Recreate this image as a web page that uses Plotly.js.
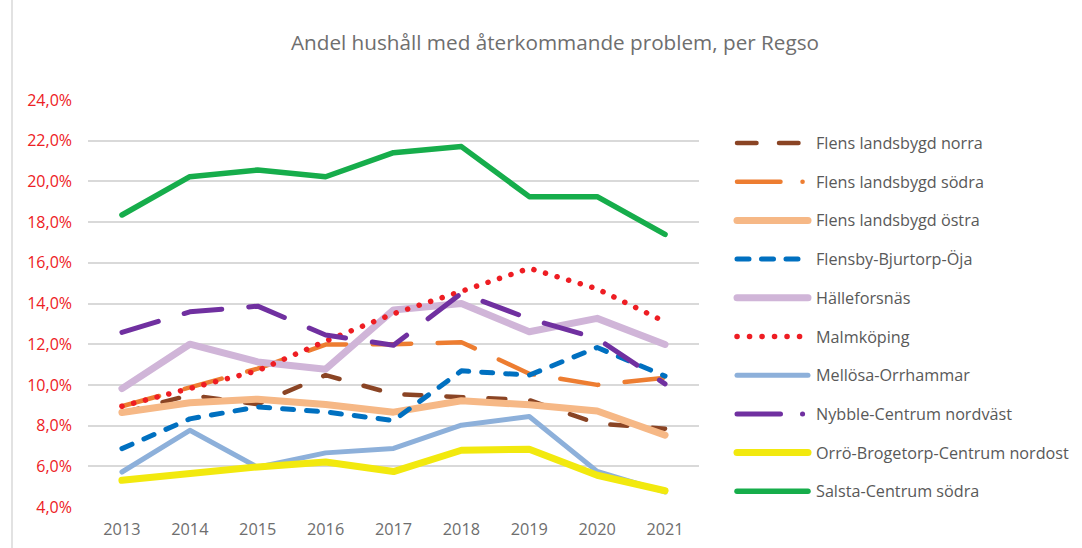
<!DOCTYPE html>
<html>
<head>
<meta charset="utf-8">
<script src="https://cdn.plot.ly/plotly-3.0.1.min.js"></script>
<style>
  html, body { margin:0; padding:0; background:#fff; }
  #chart { width:1082px; height:548px; }
  .js-line { stroke-linecap: round; stroke-linejoin: round; }
  .shapelayer path { stroke-linecap: round !important; }
</style>
</head>
<body>
<div id="chart"></div>
<script>
// ---- data ----
const years = [2013, 2014, 2015, 2016, 2017, 2018, 2019, 2020, 2021];
const seriesNames = [
  "Flens landsbygd norra",
  "Flens landsbygd södra",
  "Flens landsbygd östra",
  "Flensby-Bjurtorp-Öja",
  "Hälleforsnäs",
  "Malmköping",
  "Mellösa-Orrhammar",
  "Nybble-Centrum nordväst",
  "Orrö-Brogetorp-Centrum nordost",
  "Salsta-Centrum södra"
];
const flensNorra   = [8.62, 9.50, 9.05, 10.48, 9.55, 9.42, 9.25, 8.10, 7.85];
const flensSodra   = [8.95, 9.88, 10.80, 11.98, 12.00, 12.10, 10.55, 10.00, 10.35];
const flensOstra   = [8.64, 9.12, 9.30, 9.04, 8.66, 9.22, 9.02, 8.72, 7.53];
const flensby      = [6.87, 8.33, 8.92, 8.67, 8.25, 10.69, 10.48, 11.84, 10.43];
const halleforsnas = [9.82, 12.00, 11.13, 10.77, 13.68, 14.00, 12.61, 13.27, 11.99];
const malmkoping   = [8.95, 9.85, 10.70, 12.15, 13.50, 14.60, 15.73, 14.72, 13.10];
const mellosa      = [5.72, 7.77, 5.95, 6.66, 6.88, 8.02, 8.45, 5.75, 4.74];
const nybble       = [12.58, 13.59, 13.87, 12.45, 11.95, 14.50, 13.25, 12.28, 10.05];
const orro         = [5.31, 5.67, 5.97, 6.21, 5.74, 6.79, 6.84, 5.56, 4.80];
const salsta       = [18.35, 20.23, 20.56, 20.23, 21.41, 21.71, 19.25, 19.25, 17.40];
const seriesValues = [flensNorra, flensSodra, flensOstra, flensby, halleforsnas,
                      malmkoping, mellosa, nybble, orro, salsta];
const yTicks = [4, 6, 8, 10, 12, 14, 16, 18, 20, 22, 24];
const yTickLabels = ["4,0%", "6,0%", "8,0%", "10,0%", "12,0%", "14,0%", "16,0%",
                     "18,0%", "20,0%", "22,0%", "24,0%"];

// ---- styles ----
const FONT = "'Open Sans', sans-serif";
const styles = [
  {color:"#8A4424", width:4.5, dash:"17px,25px",     legendDash:"19.5px,22.5px"},
  {color:"#ED7D31", width:4.5, dash:"38.5px,26.5px", legendDash:"43.5px,22px,0.1px,40px"},
  {color:"#F6B886", width:7,   dash:"solid",         legendDash:"solid"},
  {color:"#0070C0", width:5,   dash:"11px,13px",     legendDash:"12px,12.5px"},
  {color:"#D0B5D8", width:7,   dash:"solid",         legendDash:"solid"},
  {color:"#EE1D23", width:5.5, dash:"0.1px,12px",    legendDash:"0.1px,12.4px"},
  {color:"#8DB0DA", width:5,   dash:"solid",         legendDash:"solid"},
  {color:"#7030A0", width:5,   dash:"38px,27px",     legendDash:"43.5px,22px,0.1px,40px"},
  {color:"#F2E90E", width:7,   dash:"solid",         legendDash:"solid"},
  {color:"#16AD4B", width:5.5, dash:"solid",         legendDash:"solid"}
];

const traces = seriesNames.map((name, i) => ({
  type: "scatter",
  mode: "lines",
  name: name,
  x: years,
  y: seriesValues[i],
  line: {color: styles[i].color, width: styles[i].width, dash: styles[i].dash},
  hoverinfo: "x+y+name",
  showlegend: false
}));

// plot area geometry (px)
const L = 88, R = 383, T = 100, B = 41, WIDTH = 1082, HEIGHT = 548;
const PW = WIDTH - L - R, PH = HEIGHT - T - B;
const px2x = px => (px - L) / PW;
const py2y = py => (HEIGHT - B - py) / PH;

// chart frame (left edge) + custom legend
const shapes = [{
  type: "line", xref: "paper", yref: "paper",
  x0: px2x(12), x1: px2x(12), y0: py2y(548), y1: py2y(0),
  line: {color: "#D9D9D9", width: 1.5}
}];
const annotations = [];
seriesNames.forEach((name, i) => {
  const cy = 143 + i * 38.7;
  shapes.push({
    type: "line", xref: "paper", yref: "paper",
    x0: px2x(737), x1: px2x(808), y0: py2y(cy), y1: py2y(cy),
    line: {color: styles[i].color, width: styles[i].width, dash: styles[i].legendDash}
  });
  annotations.push({
    xref: "paper", yref: "paper", x: px2x(814), y: py2y(cy),
    xanchor: "left", yanchor: "middle", showarrow: false,
    text: name, font: {family: FONT, size: 16.2, color: "#595959"}
  });
});

const layout = {
  width: WIDTH, height: HEIGHT,
  margin: {l: L, r: R, t: T, b: B, pad: 0},
  paper_bgcolor: "#ffffff", plot_bgcolor: "#ffffff",
  title: {
    text: "Andel hushåll med återkommande problem, per Regso",
    font: {family: FONT, size: 20.7, color: "#6E6E6E"},
    x: 555 / WIDTH, xref: "container", xanchor: "center",
    y: 1 - 43 / HEIGHT, yref: "container", yanchor: "middle"
  },
  xaxis: {
    range: [2012.5, 2021.5],
    tickmode: "array", tickvals: years, ticktext: years.map(String),
    showgrid: false, zeroline: false, showline: false, ticks: "",
    ticklabelstandoff: 11,
    tickfont: {family: FONT, size: 16.3, color: "#6E6E6E"},
    fixedrange: true
  },
  yaxis: {
    range: [4, 24],
    tickmode: "array", tickvals: yTicks, ticktext: yTickLabels,
    showgrid: true, gridcolor: "#D9D9D9", gridwidth: 1.6,
    zeroline: false, showline: false, ticks: "",
    ticklabelstandoff: 15,
    tickfont: {family: FONT, size: 16, color: "#ED2024"},
    fixedrange: true
  },
  shapes: shapes,
  annotations: annotations,
  showlegend: false
};

Plotly.newPlot("chart", traces, layout, {displayModeBar: false});
</script>
</body>
</html>
